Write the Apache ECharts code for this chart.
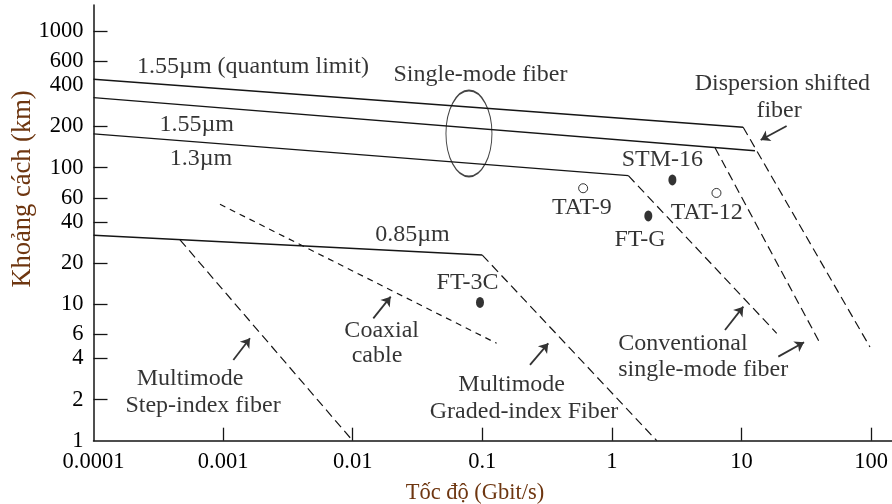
<!DOCTYPE html>
<html><head><meta charset="utf-8">
<script src="https://cdn.jsdelivr.net/npm/echarts@6/dist/echarts.min.js"></script>
<style>html,body{margin:0;padding:0;background:#fff}#c{width:892px;height:504px}</style>
</head><body><div id="c"></div>
<script>
// ---- axes ----
const xTickValues = [0.0001, 0.001, 0.01, 0.1, 1, 10, 100];
const xTickLabels = ['0.0001', '0.001', '0.01', '0.1', '1', '10', '100'];
const xTickMarks  = [0.001, 0.01, 0.1, 1, 10, 100];
const yTickValues = [1, 2, 4, 6, 10, 20, 40, 60, 100, 200, 400, 600, 1000];
const yTickLabels = ['1', '2', '4', '6', '10', '20', '40', '60', '100', '200', '400', '600', '1000'];
const yTickMarks  = [2, 4, 6, 10, 20, 40, 60, 100, 200, 600, 1000];
const xRange = [0.0001, 145];
const yRange = [1, 1555];
const xTitle = 'Tốc độ (Gbit/s)';
const yTitle = 'Khoảng cách (km)';

// ---- solid limit lines (bit rate Gbit/s, distance km) ----
const quantumLimit155 = [[0.0001, 444], [10.3, 198]];
const fiber155        = [[0.0001, 326], [12.7, 133]];
const fiber13         = [[0.0001, 177], [1.34, 87.4]];
const fiber085        = [[0.0001, 32], [0.1, 22.9]];
// ---- dashed dispersion limits ----
const dispersionShifted = [[10.3, 198], [98, 4.86]];
const conventional155   = [[6.25, 140], [40.4, 5.17]];
const conventional13    = [[1.34, 87.4], [18.7, 6.12]];
const gradedIndex       = [[0.1, 22.9], [2.22, 1]];
const stepIndex         = [[0.000465, 29.6], [0.01, 1]];
const coaxialCable      = [[0.000946, 53.9], [0.129, 5.17]];

// ---- systems ----
const filledNames  = ['STM-16', 'FT-G', 'FT-3C'];
const filledPoints = [[2.93, 81.3], [1.91, 44.3], [0.096, 10.3]];
const openNames    = ['TAT-9', 'TAT-12'];
const openPoints   = [[0.60, 70.7], [6.41, 65.3]];

// ---- ellipse marking single-mode fibre group ----
const singleModeGroup = [0.0789, 178];

// ---- annotation texts: [text, x, y, align] ----
const annotations = [
  ['1.55µm (quantum limit)', 0.0017, 552, 'center'],
  ['Single-mode fiber', 0.0968, 478, 'center'],
  ['1.55µm', 0.000626, 205.6, 'center'],
  ['1.3µm', 0.000675, 115.8, 'center'],
  ['Dispersion shifted', 20.7, 415, 'center'],
  ['fiber', 19.5, 261, 'center'],
  ['STM-16', 2.45, 113.9, 'center'],
  ['TAT-9', 0.587, 51.1, 'center'],
  ['TAT-12', 5.39, 46.6, 'center'],
  ['FT-G', 1.648, 29.5, 'center'],
  ['0.85µm', 0.0289, 32.1, 'center'],
  ['FT-3C', 0.0769, 14.3, 'center'],
  ['Coaxial', 0.01674, 6.36, 'center'],
  ['cable', 0.0154, 4.19, 'center'],
  ['Multimode', 0.000555, 2.865, 'center'],
  ['Step-index fiber', 0.0007, 1.80, 'center'],
  ['Multimode', 0.1686, 2.56, 'center'],
  ['Graded-index Fiber', 0.21, 1.63, 'center'],
  ['Conventional', 1.12, 5.17, 'left'],
  ['single-mode fiber', 1.12, 3.30, 'left']
];

// ---- arrows: [from, to] ----
const arrows = [
  [[0.0012, 3.90], [0.001613, 5.63]],
  [[0.01442, 7.88], [0.01964, 11.35]],
  [[0.2334, 3.59], [0.323, 5.17]],
  [[7.46, 6.47], [10.33, 9.59]],
  [[19.23, 4.13], [30.4, 5.26]],
  [[22.3, 202], [14.06, 159.6]]
];

const L = Math.log10;
const lg = p => [L(p[0]), L(p[1])];
const serif = 'Liberation Serif';
const ink = '#151515';

function fmt(values, labels) {
  return v => {
    const i = values.findIndex(t => Math.abs(L(t) - v) < 1e-6);
    return i >= 0 ? labels[i] : '';
  };
}

function lineSeries(pts, dashed, dash) {
  return {
    type: 'line', data: pts.map(lg), showSymbol: false, symbol: 'none', silent: true,
    lineStyle: { color: ink, width: dashed ? 1.2 : 1.4, type: dashed ? (dash || [9, 5]) : 'solid' },
    z: 3
  };
}

const chart = echarts.init(document.getElementById('c'), null, { renderer: 'canvas' });
chart.setOption({
  animation: false,
  backgroundColor: '#fff',
  grid: { left: 93.5, right: 0, top: 5, bottom: 63.3, containLabel: false },
  xAxis: {
    type: 'value', min: L(xRange[0]), max: L(xRange[1]),
    axisLine: { show: true, onZero: false, lineStyle: { color: ink, width: 1.5 } },
    axisTick: { show: true, inside: true, length: 13, customValues: xTickMarks.map(L), lineStyle: { color: ink, width: 1.3 } },
    axisLabel: { show: true, customValues: xTickValues.map(L), formatter: fmt(xTickValues, xTickLabels),
      fontFamily: serif, fontSize: 22.5, color: '#000', margin: 10 },
    splitLine: { show: false }
  },
  yAxis: {
    type: 'value', min: L(yRange[0]), max: L(yRange[1]),
    axisLine: { show: true, onZero: false, lineStyle: { color: ink, width: 1.5 } },
    axisTick: { show: true, inside: true, length: 14, customValues: yTickMarks.map(L), lineStyle: { color: ink, width: 1.3 } },
    axisLabel: { show: true, customValues: yTickValues.map(L), formatter: fmt(yTickValues, yTickLabels),
      fontFamily: serif, fontSize: 22.5, color: '#000', margin: 10 },
    splitLine: { show: false }
  },
  graphic: [
    { type: 'text', x: 23, y: 189, rotation: Math.PI / 2,
      style: { text: yTitle, font: '26.5px "Liberation Serif"', fill: '#6E3610', align: 'center', verticalAlign: 'middle' } },
    { type: 'text', x: 475, y: 493,
      style: { text: xTitle, font: '22.5px "Liberation Serif"', fill: '#6E3610', align: 'center', verticalAlign: 'middle' } }
  ],
  series: [
    lineSeries(quantumLimit155),
    lineSeries(fiber155),
    lineSeries(fiber13),
    lineSeries(fiber085),
    lineSeries(dispersionShifted, true),
    lineSeries(conventional155, true),
    lineSeries(conventional13, true),
    lineSeries(gradedIndex, true),
    lineSeries(stepIndex, true),
    lineSeries(coaxialCable, true, [6, 5]),
    {
      type: 'scatter', silent: true, z: 4,
      data: [lg(singleModeGroup)],
      symbol: 'circle', symbolSize: [46, 86],
      itemStyle: { color: 'rgba(0,0,0,0)', borderColor: ink, borderWidth: 1.3 }
    },
    {
      type: 'scatter', silent: true, z: 5,
      data: filledPoints.map((p, i) => ({ name: filledNames[i], value: lg(p) })),
      symbol: 'circle', symbolSize: [8, 11],
      itemStyle: { color: '#000' }
    },
    {
      type: 'scatter', silent: true, z: 5,
      data: openPoints.map((p, i) => ({ name: openNames[i], value: lg(p) })),
      symbol: 'circle', symbolSize: 9,
      itemStyle: { color: '#fff', borderColor: '#000', borderWidth: 1 }
    },
    {
      type: 'lines', coordinateSystem: 'cartesian2d', silent: true, z: 5,
      symbol: ['none', 'arrow'], symbolSize: 9,
      lineStyle: { color: '#333', width: 1.8, opacity: 1 },
      data: arrows.map(a => ({ coords: [lg(a[0]), lg(a[1])] }))
    },
    {
      type: 'scatter', silent: true, z: 6,
      symbolSize: 1, itemStyle: { color: 'rgba(0,0,0,0)' },
      data: annotations.map(a => ({
        name: a[0], value: lg([a[1], a[2]]),
        label: { align: a[3] }
      })),
      label: { show: true, position: 'inside', formatter: '{b}',
        fontFamily: serif, fontSize: 24, color: '#000', verticalAlign: 'middle' }
    }
  ]
});
</script>
</body></html>
